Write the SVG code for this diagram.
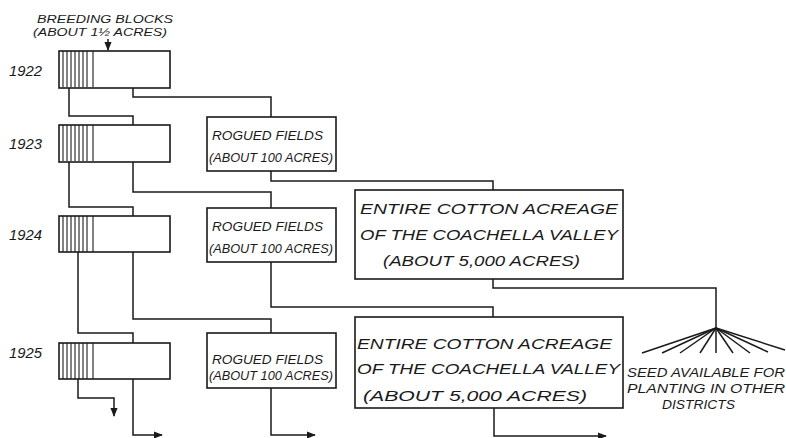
<svg xmlns="http://www.w3.org/2000/svg" width="786" height="438" viewBox="0 0 786 438">
<defs>
<style>
.box{fill:#fff;stroke:#1a1a1a;stroke-width:1.6}
.hat{stroke:#1a1a1a;stroke-width:1.1}
.ln{fill:none;stroke:#1a1a1a;stroke-width:1.5}
text{font-family:"Liberation Sans",Arial,sans-serif;font-style:italic;fill:#1a1a1a}
.yr{font-size:15px}
.t{font-size:13.5px}
.s{font-size:11.5px}
.e{font-size:15px}
</style>
<marker id="ah" viewBox="0 0 10 10" refX="9" refY="5" markerWidth="9" markerHeight="9" markerUnits="userSpaceOnUse" orient="auto">
<path d="M0,1 L10,5 L0,9 Z" fill="#1a1a1a"/>
</marker>
<g id="hatch">
<line class="hat" x1="63" y1="0" x2="63" y2="36"/>
<line class="hat" x1="67" y1="0" x2="67" y2="36"/>
<line class="hat" x1="71" y1="0" x2="71" y2="36"/>
<line class="hat" x1="75" y1="0" x2="75" y2="36"/>
<line class="hat" x1="79" y1="0" x2="79" y2="36"/>
<line class="hat" x1="83" y1="0" x2="83" y2="36"/>
<line class="hat" x1="87" y1="0" x2="87" y2="36"/>
<line class="hat" x1="93" y1="0" x2="93" y2="36" stroke-width="1.5"/>
</g>
</defs>
<rect width="786" height="438" fill="#fff"/>

<g id="label-breeding">
<text class="s" x="37" y="23" textLength="136" lengthAdjust="spacingAndGlyphs">BREEDING BLOCKS</text>
<text class="s" x="33" y="36" textLength="134" lengthAdjust="spacingAndGlyphs">(ABOUT 1½ ACRES)</text>
</g>

<g id="years">
<text class="yr" x="9" y="76" textLength="33" lengthAdjust="spacingAndGlyphs">1922</text>
<text class="yr" x="9" y="149" textLength="33" lengthAdjust="spacingAndGlyphs">1923</text>
<text class="yr" x="9" y="240" textLength="33" lengthAdjust="spacingAndGlyphs">1924</text>
<text class="yr" x="9" y="358" textLength="33" lengthAdjust="spacingAndGlyphs">1925</text>
</g>

<g id="block-1922">
<rect class="box" x="59" y="51" width="111" height="37"/>
<use href="#hatch" y="51"/>
</g>
<g id="block-1923">
<rect class="box" x="59" y="125" width="111" height="37"/>
<use href="#hatch" y="125"/>
</g>
<g id="block-1924">
<rect class="box" x="59" y="216" width="111" height="36"/>
<use href="#hatch" y="216"/>
</g>
<g id="block-1925">
<rect class="box" x="59" y="343" width="111" height="36"/>
<use href="#hatch" y="343"/>
</g>

<g id="rogued-1923">
<rect class="box" x="207" y="117" width="129" height="54"/>
<text class="t" x="212" y="140" textLength="111" lengthAdjust="spacingAndGlyphs">ROGUED FIELDS</text>
<text class="t" x="209" y="162" textLength="124" lengthAdjust="spacingAndGlyphs">(ABOUT 100 ACRES)</text>
</g>
<g id="rogued-1924">
<rect class="box" x="207" y="208" width="129" height="54"/>
<text class="t" x="212" y="231" textLength="111" lengthAdjust="spacingAndGlyphs">ROGUED FIELDS</text>
<text class="t" x="209" y="253" textLength="124" lengthAdjust="spacingAndGlyphs">(ABOUT 100 ACRES)</text>
</g>
<g id="rogued-1925">
<rect class="box" x="207" y="333" width="129" height="55"/>
<text class="t" x="212" y="364" textLength="111" lengthAdjust="spacingAndGlyphs">ROGUED FIELDS</text>
<text class="t" x="209" y="380" textLength="124" lengthAdjust="spacingAndGlyphs">(ABOUT 100 ACRES)</text>
</g>

<g id="entire-1924">
<rect class="box" x="355" y="190" width="268" height="89"/>
<text class="e" x="360" y="214" textLength="258" lengthAdjust="spacingAndGlyphs">ENTIRE COTTON ACREAGE</text>
<text class="e" x="360" y="240" textLength="258" lengthAdjust="spacingAndGlyphs">OF THE COACHELLA VALLEY</text>
<text class="e" x="383" y="266" textLength="197" lengthAdjust="spacingAndGlyphs">(ABOUT 5,000 ACRES)</text>
</g>
<g id="entire-1925">
<rect class="box" x="355" y="317" width="268" height="91"/>
<text class="e" x="357" y="349" textLength="255" lengthAdjust="spacingAndGlyphs">ENTIRE COTTON ACREAGE</text>
<text class="e" x="357" y="374" textLength="263" lengthAdjust="spacingAndGlyphs">OF THE COACHELLA VALLEY</text>
<text class="e" x="363" y="401" textLength="224" lengthAdjust="spacingAndGlyphs">(ABOUT 5,000 ACRES)</text>
</g>

<g id="seed">
<text class="t" x="627" y="377" textLength="158" lengthAdjust="spacingAndGlyphs">SEED AVAILABLE FOR</text>
<text class="t" x="627" y="393" textLength="158" lengthAdjust="spacingAndGlyphs">PLANTING IN OTHER</text>
<text class="t" x="662" y="409" textLength="73" lengthAdjust="spacingAndGlyphs">DISTRICTS</text>
</g>

<g id="connectors">
<path class="ln" d="M108,39 V50" marker-end="url(#ah)"/>
<path class="ln" d="M69,88 V116 H133 V125"/>
<path class="ln" d="M133,88 V97 H271 V117"/>
<path class="ln" d="M69,162 V207 H133 V216"/>
<path class="ln" d="M133,162 V192 H271 V208"/>
<path class="ln" d="M271,171 V181 H493 V190"/>
<path class="ln" d="M78,252 V333 H133 V343"/>
<path class="ln" d="M133,252 V319 H271 V333"/>
<path class="ln" d="M271,262 V307 H493 V317"/>
<path class="ln" d="M493,279 V288 H716 V328"/>
<path class="ln" d="M78,379 V398 H114 V416" marker-end="url(#ah)"/>
<path class="ln" d="M133,379 V435 H162" marker-end="url(#ah)"/>
<path class="ln" d="M271,388 V435 H315" marker-end="url(#ah)"/>
<path class="ln" d="M494,408 V436 H606" marker-end="url(#ah)"/>
<g class="ln">
<line x1="716" y1="328" x2="642" y2="353"/>
<line x1="716" y1="328" x2="662" y2="353"/>
<line x1="716" y1="328" x2="680" y2="353"/>
<line x1="716" y1="328" x2="700" y2="353"/>
<line x1="716" y1="328" x2="716" y2="353"/>
<line x1="716" y1="328" x2="733" y2="353"/>
<line x1="716" y1="328" x2="750" y2="353"/>
<line x1="716" y1="328" x2="768" y2="352"/>
<line x1="716" y1="328" x2="785" y2="350"/>
</g>
</g>
</svg>
